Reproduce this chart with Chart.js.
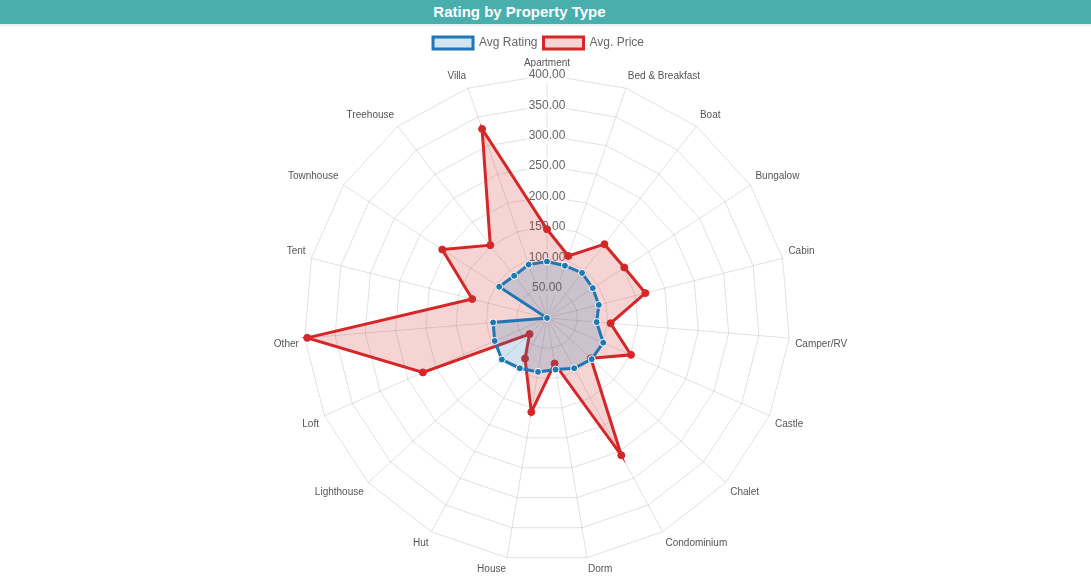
<!DOCTYPE html>
<html>
<head>
<meta charset="utf-8">
<title>Rating by Property Type</title>
<script src="https://cdn.jsdelivr.net/npm/chart.js@4/dist/chart.umd.min.js"></script>
<style>
    html, body {
        margin: 0;
        padding: 0;
        background: #fff;
        font-family: "Liberation Sans", Arial, sans-serif;
        overflow: hidden;
    }
    .chart-header {
        height: 24px;
        line-height: 24px;
        background: #48aeae;
        color: #fff;
        font-weight: bold;
        font-size: 15px;
        text-align: center;
        padding-right: 52px;
        border-bottom: 2px solid #e4f2f2;
    }
    .chart-wrap {
        position: relative;
        width: 1091px;
        height: 551px;
        margin-top: 1px;
    }
</style>
</head>
<body>
<div class="chart-header">Rating by Property Type</div>
<div class="chart-wrap">
    <canvas id="radarChart"></canvas>
</div>

<script>
// Property types, clockwise from the top
const propertyTypes = [
    'Apartment', 'Bed & Breakfast', 'Boat', 'Bungalow', 'Cabin', 'Camper/RV',
    'Castle', 'Chalet', 'Condominium', 'Dorm', 'House', 'Hut', 'Lighthouse',
    'Loft', 'Other', 'Tent', 'Townhouse', 'Treehouse', 'Villa'
];

// Series values
const avgRating = [93, 91, 94, 90, 88, 82, 101, 100, 94, 86, 90, 94, 101, 94, 89, 0, 94, 88, 93];
const avgPrice = [146, 108, 154, 152, 167, 105, 151, 98, 257, 76, 157, 76, 39, 223, 396, 127, 206, 152, 329];

// Radial scale ticks
const tickMax = 400;
const tickStep = 50;

const blue = '#1f77b4';
const red = '#d62728';

// The legend sits a little left of the radar centre in the original
const legendShift = {
    id: 'legendShift',
    afterLayout(chart) {
        const legend = chart.legend;
        if (legend) {
            legend.left -= 9;
            legend.right -= 9;
            legend.top += 4;
            legend.bottom += 4;
        }
    }
};

const ctx = document.getElementById('radarChart');

new Chart(ctx, {
    type: 'radar',
    data: {
        labels: propertyTypes,
        datasets: [{
            label: 'Avg Rating',
            data: avgRating,
            borderColor: blue,
            backgroundColor: 'rgba(31, 119, 180, 0.2)',
            borderWidth: 3,
            pointRadius: 3.5,
            pointBackgroundColor: blue,
            pointBorderColor: '#fff',
            pointBorderWidth: 1
        }, {
            label: 'Avg. Price',
            data: avgPrice,
            borderColor: red,
            backgroundColor: 'rgba(214, 39, 40, 0.2)',
            borderWidth: 3,
            pointRadius: 3.5,
            pointBackgroundColor: red,
            pointBorderColor: red,
            pointBorderWidth: 1
        }]
    },
    options: {
        responsive: true,
        maintainAspectRatio: false,
        animation: false,
        layout: {
            padding: { top: 0, bottom: 0, left: 4, right: 0 }
        },
        plugins: {
            legend: {
                position: 'top',
                labels: {
                    color: '#666',
                    font: { family: 'Liberation Sans', size: 12 },
                    boxWidth: 40,
                    padding: 6
                }
            },
            tooltip: { enabled: false }
        },
        scales: {
            r: {
                min: 0,
                max: tickMax,
                ticks: {
                    stepSize: tickStep,
                    color: '#666',
                    font: { family: 'Liberation Sans', size: 12 },
                    backdropColor: 'rgba(255, 255, 255, 0.75)',
                    callback: function(value) {
                        return value.toFixed(2);
                    }
                },
                pointLabels: {
                    color: '#555',
                    padding: -2,
                    font: { family: 'Liberation Sans', size: 10 }
                },
                grid: {
                    color: 'rgba(0, 0, 0, 0.12)'
                },
                angleLines: {
                    color: 'rgba(0, 0, 0, 0.12)'
                }
            }
        }
    },
    plugins: [legendShift]
});
</script>
</body>
</html>
